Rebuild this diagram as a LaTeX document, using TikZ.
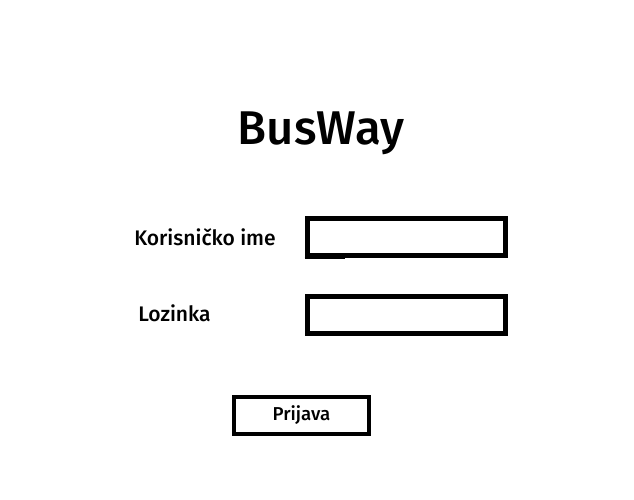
\documentclass[tikz,border=0pt]{standalone}
\usepackage{fontspec}
\setmainfont[UprightFont=* Medium]{Fira Sans}
\begin{document}
\begin{tikzpicture}[x=0.75pt, y=-0.75pt,
		polje/.style={draw, line width=3.75pt, minimum width=198*0.75pt, minimum height=37*0.75pt, inner sep=0pt},
		gumb/.style={draw, line width=3pt, minimum width=135*0.75pt, minimum height=37*0.75pt, inner sep=0pt, font=\fontsize{14}{16}\selectfont},
		oznaka/.style={anchor=west, inner sep=0pt, font=\fontsize{15.8}{18}\selectfont}]
			\useasboundingbox (0,0) rectangle (634,499);
			\node[font=\fontsize{35.5}{42}\selectfont] (naslov) at (321,133) {BusWay};
			\node[oznaka] (korisnik) at (134,237) {Korisničko ime};
			\node[oznaka] (lozinka) at (138,313) {Lozinka};
			\node[polje] (ime) at (406,236.5) {};
			\node[polje] (sifra) at (406.5,314.5) {};
			\draw[line width=1.5pt] (ime.south west) -- ++(40,0);
			\node[gumb] (prijava) at (301.5,415.5) {Prijava};
		\end{tikzpicture}
\end{document}
